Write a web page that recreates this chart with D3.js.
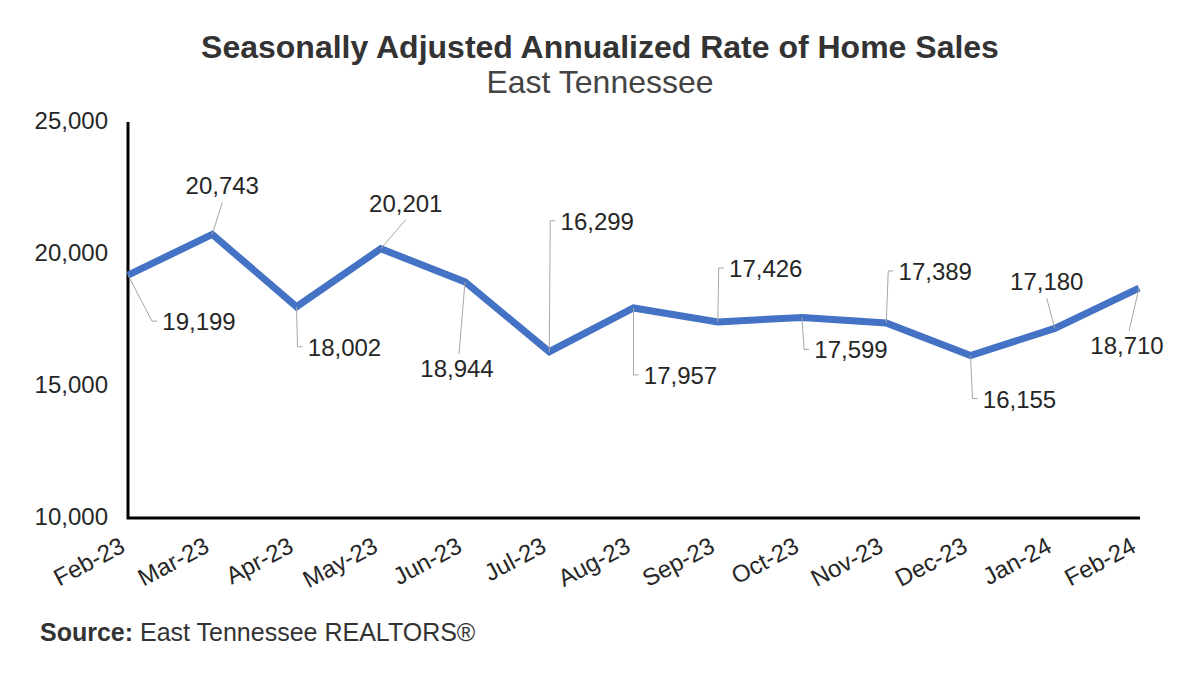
<!DOCTYPE html>
<html>
<head>
<meta charset="utf-8">
<script src="https://cdn.jsdelivr.net/npm/d3@7"></script>
<style>
  body { margin: 0; background: white; }
  text { font-family: "Liberation Sans", Arial, Helvetica, sans-serif; }
</style>
</head>
<body>
<div class="lineChart"></div>
<script>
var width = 1200;
var height = 675;

var months = ['Feb-23', 'Mar-23', 'Apr-23', 'May-23', 'Jun-23', 'Jul-23',
    'Aug-23', 'Sep-23', 'Oct-23', 'Nov-23', 'Dec-23', 'Jan-24', 'Feb-24'];
var sales = [19199, 20743, 18002, 20201, 18944, 16299,
    17957, 17426, 17599, 17389, 16155, 17180, 18710];
var yTicks = [10000, 15000, 20000, 25000];

// where each value label sits relative to its point, and how the leader is drawn
var labelOffsets = [[71, 46], [10, -49], [48, 40], [25, -46], [-8, 86], [48, -131],
    [47, 67], [48, -54], [49, 32], [49, -52], [49, 43], [-8, -47], [-12, 57]];
var leaderTypes = ['side', 'above', 'side', 'above', 'below', 'side',
    'side', 'side', 'side', 'side', 'side', 'above', 'below'];

var plotLeft = 128, plotRight = 1139, plotTop = 122, plotBottom = 518;

var x = d3.scalePoint().domain(months).range([plotLeft, plotRight]);
var y = d3.scaleLinear().domain([10000, 25000]).range([plotBottom, plotTop]);

var svg = d3.select(".lineChart")
    .append("svg")
    .attr("width", width)
    .attr("height", height);

svg.append("rect")
    .attr("width", width)
    .attr("height", height)
    .attr("fill", "white");

// titles
svg.append("text")
    .attr("x", 600)
    .attr("y", 58)
    .attr("text-anchor", "middle")
    .style("font-size", "32px")
    .style("font-weight", "bold")
    .attr("fill", "#333")
    .text("Seasonally Adjusted Annualized Rate of Home Sales");

svg.append("text")
    .attr("x", 600)
    .attr("y", 93)
    .attr("text-anchor", "middle")
    .style("font-size", "32px")
    .attr("fill", "#444")
    .text("East Tennessee");

// axes
var yAxis = d3.axisLeft(y)
    .tickValues(yTicks)
    .tickSize(0)
    .tickPadding(20)
    .tickFormat(d3.format(","));

var gy = svg.append("g")
    .attr("transform", "translate(" + plotLeft + ",0)")
    .call(yAxis);
gy.select(".domain").remove();
gy.selectAll("text")
    .style("font-size", "24px")
    .attr("fill", "#262626")
    .attr("dy", "0.27em");

var xAxis = d3.axisBottom(x).tickSize(0).tickPadding(0);
var gx = svg.append("g")
    .attr("transform", "translate(0," + plotBottom + ")")
    .call(xAxis);
gx.select(".domain").remove();
gx.selectAll("text")
    .style("font-size", "24px")
    .attr("fill", "#262626")
    .attr("y", 0)
    .attr("dy", 0)
    .style("text-anchor", "end")
    .attr("transform", "translate(-2,33) rotate(-28)");

svg.append("path")
    .attr("d", "M" + plotLeft + "," + plotTop + "V" + plotBottom + "H" + (plotRight + 1))
    .attr("fill", "none")
    .attr("stroke", "black")
    .attr("stroke-width", 3);

// line
var line = d3.line()
    .x(function(d, i) { return x(months[i]); })
    .y(function(d) { return y(d); });

svg.append("path")
    .datum(sales)
    .attr("d", line)
    .attr("fill", "none")
    .attr("stroke", "#4472C4")
    .attr("stroke-width", 7)
    .attr("stroke-linejoin", "miter");

// leaders and value labels
var fmt = d3.format(",");
var labels = svg.append("g");

sales.forEach(function(v, i) {
    var px = x(months[i]);
    var py = y(v);
    var cx = px + labelOffsets[i][0];
    var cy = py + labelOffsets[i][1];
    var pts;
    if (leaderTypes[i] == 'side') {
        var textLeft = cx - 37;
        pts = [[px, py], [textLeft - 10, cy], [textLeft - 5, cy]];
    } else if (leaderTypes[i] == 'above') {
        pts = [[px, py], [cx, cy + 17]];
    } else {
        pts = [[px, py], [cx + 2, cy - 14]];
    }
    labels.append("path")
        .attr("d", d3.line()(pts))
        .attr("fill", "none")
        .attr("stroke", "#a6a6a6")
        .attr("stroke-width", 1);
    labels.append("text")
        .attr("x", cx)
        .attr("y", cy + 9)
        .attr("text-anchor", "middle")
        .style("font-size", "24px")
        .attr("fill", "#262626")
        .text(fmt(v));
});

// source note
var src = svg.append("text")
    .attr("x", 40)
    .attr("y", 641)
    .style("font-size", "25px")
    .attr("fill", "#333");
src.append("tspan").style("font-weight", "bold").text("Source:");
src.append("tspan").text(" East Tennessee REALTORS®");
</script>
</body>
</html>
